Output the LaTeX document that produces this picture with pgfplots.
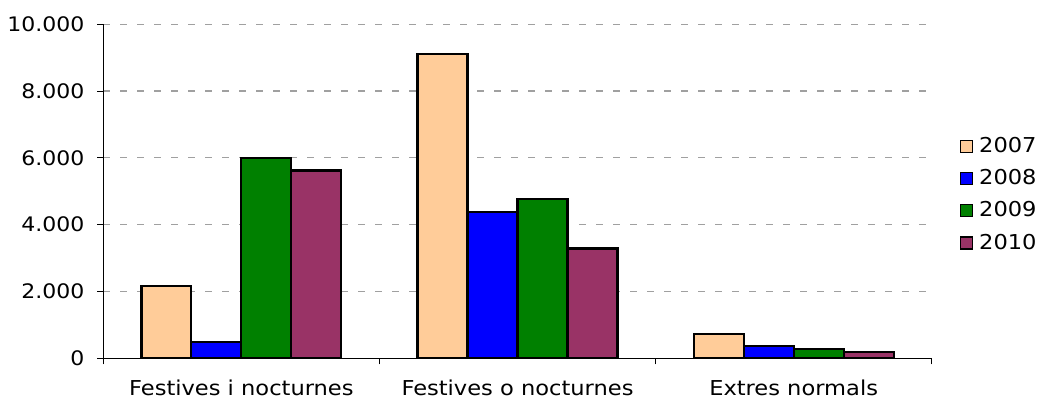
\documentclass[border=0pt]{standalone}
\usepackage{fontspec}
\setmainfont{DejaVu Sans}[FakeStretch=1.1]
\usepackage{pgfplots}
\pgfplotsset{compat=1.18}
\definecolor{c07}{HTML}{FFCC99}
\definecolor{c08}{HTML}{0000FF}
\definecolor{c09}{HTML}{008000}
\definecolor{c10}{HTML}{993366}
\definecolor{gridc}{HTML}{A0A0A0}
\begin{document}
\fontsize{20.5}{24}\selectfont
\begin{tikzpicture}
\useasboundingbox (0,0) rectangle (1040pt,399pt);
\begin{axis}[
  at={(103.3pt,40.7pt)}, anchor=south west,
  width=828.4pt, height=334pt, scale only axis,
  xmin=-0.5, xmax=2.5, ymin=0, ymax=10000,
  axis x line*=bottom, axis y line*=left,
  ybar, bar width=0.181,
  xtick={0,1,2},
  xticklabels={Festives i nocturnes, Festives o nocturnes, Extres normals},
  minor xtick={-0.5,0.5,1.5,2.5},
  major x tick style={draw=none},
  ytick={0,2000,4000,6000,8000,10000},
  ymajorgrids,
  grid style={dash pattern=on 7pt off 10pt, color=gridc, line width=1.2pt},
  tick align=outside, major tick length=6pt, minor tick length=6pt,
  scaled y ticks=false,
  /pgf/number format/1000 sep={.},
  /pgf/number format/assume math mode=true,
  ticklabel style={font=\fontsize{20}{24}\selectfont},
  xticklabel style={yshift=-9pt, font=\fontsize{20.5}{24}\selectfont},
  yticklabel style={xshift=-6pt},
  axis line style={line width=1.1pt, black},
  tick style={line width=1.1pt, black},
  legend style={at={(1.03,0.49)}, anchor=west, draw=none, fill=none,
    row sep=10pt, font=\fontsize{20.5}{24}\selectfont,
    /tikz/every odd column/.append style={column sep=4pt}},
  legend cell align=left,
  legend image code/.code={\draw[#1, line width=1.4pt] (0pt,-6pt) rectangle (12pt,6pt);},
]
\addplot[fill=c07, draw=black, line width=2.2pt, bar shift=-0.2715] coordinates {(0,2160) (1,9100) (2,720)};
\addplot[fill=c08, draw=black, line width=2.2pt, bar shift=-0.0905] coordinates {(0,480) (1,4370) (2,370)};
\addplot[fill=c09, draw=black, line width=2.2pt, bar shift=0.0905] coordinates {(0,5990) (1,4780) (2,290)};
\addplot[fill=c10, draw=black, line width=2.2pt, bar shift=0.2715] coordinates {(0,5620) (1,3290) (2,180)};
\legend{2007,2008,2009,2010}
\end{axis}
\end{tikzpicture}
\end{document}
